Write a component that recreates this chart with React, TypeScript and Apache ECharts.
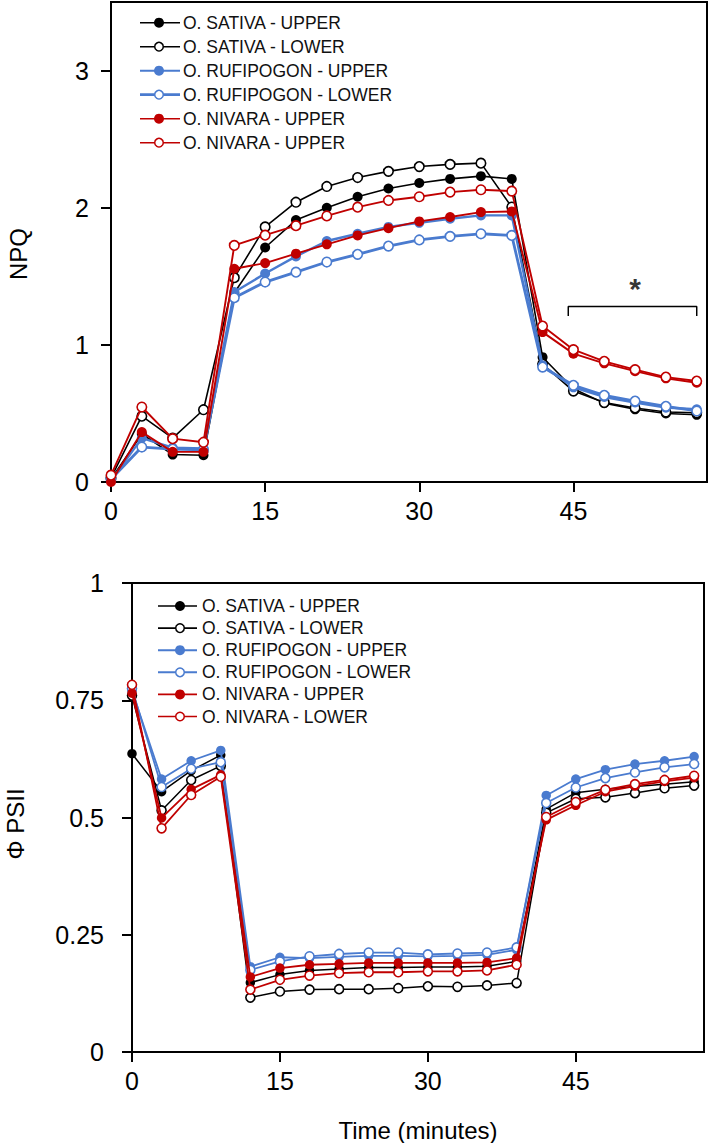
import React, { useEffect, useRef } from "react";
import * as echarts from "echarts";

const times = [0, 3, 6, 9, 12, 15, 18, 21, 24, 27, 30, 33, 36, 39, 42, 45, 48, 51, 54, 57];

// NPQ (top panel)
const sativaUpperNPQ = [0.02, 0.35, 0.2, 0.195, 1.38, 1.71, 1.91, 2.0, 2.08, 2.14, 2.18, 2.21, 2.23, 2.21, 0.91, 0.68, 0.575, 0.53, 0.5, 0.49];
const sativaLowerNPQ = [0.03, 0.48, 0.32, 0.527, 1.49, 1.86, 2.04, 2.155, 2.22, 2.265, 2.3, 2.316, 2.325, 2.005, 0.86, 0.663, 0.58, 0.54, 0.51, 0.505];
const rufiUpperNPQ = [0.01, 0.32, 0.25, 0.245, 1.385, 1.52, 1.645, 1.757, 1.81, 1.86, 1.89, 1.92, 1.944, 1.944, 0.85, 0.69, 0.62, 0.58, 0.542, 0.53];
const rufiLowerNPQ = [0.02, 0.255, 0.24, 0.235, 1.344, 1.458, 1.53, 1.604, 1.66, 1.72, 1.765, 1.791, 1.81, 1.798, 0.838, 0.705, 0.632, 0.59, 0.552, 0.518];
const nivaraUpperNPQ = [0.0, 0.364, 0.22, 0.22, 1.555, 1.596, 1.665, 1.733, 1.798, 1.851, 1.9, 1.932, 1.968, 1.973, 1.093, 0.936, 0.865, 0.808, 0.756, 0.724];
const nivaraLowerNPQ = [0.05, 0.547, 0.316, 0.29, 1.725, 1.8, 1.869, 1.94, 2.004, 2.053, 2.08, 2.114, 2.131, 2.121, 1.137, 0.965, 0.88, 0.819, 0.765, 0.736];

// Phi PSII (bottom panel)
const sativaUpperPSII = [0.636, 0.555, 0.6, 0.633, 0.148, 0.165, 0.174, 0.177, 0.18, 0.18, 0.181, 0.181, 0.183, 0.193, 0.518, 0.553, 0.56, 0.566, 0.571, 0.576];
const sativaLowerPSII = [0.76, 0.515, 0.58, 0.61, 0.116, 0.129, 0.133, 0.134, 0.134, 0.136, 0.14, 0.139, 0.142, 0.147, 0.51, 0.54, 0.543, 0.552, 0.5625, 0.568];
const rufiUpperPSII = [0.77, 0.582, 0.621, 0.643, 0.182, 0.202, 0.2, 0.203, 0.205, 0.205, 0.204, 0.205, 0.207, 0.218, 0.547, 0.582, 0.602, 0.614, 0.621, 0.63];
const rufiLowerPSII = [0.775, 0.565, 0.604, 0.618, 0.175, 0.193, 0.204, 0.209, 0.212, 0.212, 0.208, 0.21, 0.212, 0.223, 0.531, 0.564, 0.584, 0.596, 0.607, 0.614];
const nivaraUpperPSII = [0.765, 0.499, 0.56, 0.591, 0.16, 0.179, 0.186, 0.188, 0.19, 0.19, 0.19, 0.19, 0.191, 0.2, 0.495, 0.526, 0.555, 0.567, 0.577, 0.585];
const nivaraLowerPSII = [0.783, 0.477, 0.548, 0.587, 0.133, 0.154, 0.163, 0.168, 0.17, 0.17, 0.172, 0.172, 0.174, 0.186, 0.501, 0.533, 0.559, 0.571, 0.58, 0.589];

const topLegendLabels = [
  "O. SATIVA - UPPER",
  "O. SATIVA - LOWER",
  "O. RUFIPOGON - UPPER",
  "O. RUFIPOGON - LOWER",
  "O. NIVARA - UPPER",
  "O. NIVARA - UPPER",
];
const bottomLegendLabels = [
  "O. SATIVA - UPPER",
  "O. SATIVA - LOWER",
  "O. RUFIPOGON - UPPER",
  "O. RUFIPOGON - LOWER",
  "O. NIVARA - UPPER",
  "O. NIVARA - LOWER",
];

const xTicks = [0, 15, 30, 45];
const npqTicks = [0, 1, 2, 3];
const bracketPoints = [
  [44.5, 1.21],
  [44.5, 1.28],
  [57, 1.28],
  [57, 1.21],
];
const starPoint = [51, 1.41];

const BLACK = "#000000";
const BLUE = "#4a7bcf";
const RED = "#c00000";
const FONT = "Liberation Sans, Arial, sans-serif";

const styles = [
  { color: BLACK, filled: true },
  { color: BLACK, filled: false },
  { color: BLUE, filled: true },
  { color: BLUE, filled: false },
  { color: RED, filled: true },
  { color: RED, filled: false },
];

function pairs(ys: number[]) {
  return times.map((t, i) => [t, ys[i]]);
}

export default function App() {
  const ref = useRef<HTMLDivElement>(null);

  useEffect(() => {
    if (!ref.current) return;
    const chart = echarts.init(ref.current, null, { renderer: "svg" });

    const topData = [sativaUpperNPQ, sativaLowerNPQ, rufiUpperNPQ, rufiLowerNPQ, nivaraUpperNPQ, nivaraLowerNPQ];
    const botData = [sativaUpperPSII, sativaLowerPSII, rufiUpperPSII, rufiLowerPSII, nivaraUpperPSII, nivaraLowerPSII];
    const topWidths = [1.6, 1.6, 2.4, 2.8, 1.9, 1.9];
    const botWidths = [1.5, 1.5, 1.8, 1.8, 1.8, 1.8];

    const mkSeries = (data: number[][], idx: number, grid: number, widths: number[], fsz: number, osz: number) => {
      const s = styles[idx];
      return {
        type: "line",
        xAxisIndex: grid,
        yAxisIndex: grid,
        data: pairs(data[idx] as any),
        symbol: "circle",
        symbolSize: s.filled ? fsz : osz,
        showAllSymbol: true,
        silent: true,
        lineStyle: { color: s.color, width: widths[idx] },
        itemStyle: {
          color: s.filled ? s.color : "#ffffff",
          borderColor: s.color,
          borderWidth: s.filled ? 0 : 1.6,
        },
        z: 2 + idx,
      };
    };

    const series: any[] = [];
    for (let i = 0; i < 6; i++) series.push(mkSeries(topData as any, i, 0, topWidths, 10, 9.5));
    for (let i = 0; i < 6; i++) series.push(mkSeries(botData as any, i, 1, botWidths, 9.5, 9));
    series.push({
      type: "line",
      xAxisIndex: 0,
      yAxisIndex: 0,
      data: bracketPoints,
      symbol: "none",
      silent: true,
      lineStyle: { color: BLACK, width: 1.5 },
    });
    series.push({
      type: "scatter",
      xAxisIndex: 0,
      yAxisIndex: 0,
      data: [starPoint],
      symbol: "circle",
      symbolSize: 0,
      silent: true,
      label: {
        show: true,
        position: "inside",
        formatter: "*",
        fontSize: 30,
        fontWeight: "bold",
        color: BLACK,
        fontFamily: FONT,
      },
    });

    const graphic: any[] = [];
    const legend = (labels: string[], x1: number, x2: number, mx: number, tx: number, y0: number, dy: number) => {
      labels.forEach((lab, i) => {
        const s = styles[i];
        const y = y0 + i * dy;
        const w = i === 3 && x1 === 140 ? 2.8 : s.color === BLUE ? 2 : 1.6;
        graphic.push({ type: "line", shape: { x1, y1: y, x2, y2: y }, style: { stroke: s.color, lineWidth: w } });
        graphic.push({
          type: "circle",
          shape: { cx: mx, cy: y, r: s.filled ? 5 : 4.3 },
          style: { fill: s.filled ? s.color : "#ffffff", stroke: s.color, lineWidth: s.filled ? 0 : 1.5 },
        });
        graphic.push({
          type: "text",
          x: tx,
          y,
          style: { text: lab, font: `17.5px ${FONT}`, fill: "#111", verticalAlign: "middle", align: "left" },
        });
      });
    };
    legend(topLegendLabels, 140, 180, 159, 183, 22.7, 24);
    legend(bottomLegendLabels, 158, 197, 180, 202, 606, 22.1);

    graphic.push({
      type: "text",
      x: 18,
      y: 254,
      rotation: Math.PI / 2,
      style: { text: "NPQ", font: `24px ${FONT}`, fill: "#000", align: "center", verticalAlign: "middle" },
    });
    graphic.push({
      type: "text",
      x: 15,
      y: 824,
      rotation: Math.PI / 2,
      style: { text: "Φ PSII", font: `24px ${FONT}`, fill: "#000", align: "center", verticalAlign: "middle" },
    });
    graphic.push({
      type: "text",
      x: 418,
      y: 1130,
      style: { text: "Time (minutes)", font: `24px ${FONT}`, fill: "#000", align: "center", verticalAlign: "middle" },
    });

    const axisLine = { show: true, lineStyle: { color: "#000", width: 2 } };
    const tick = (vals?: number[]) => ({
      show: true,
      inside: false,
      length: 10,
      lineStyle: { color: "#000", width: 2 },
      ...(vals ? { customValues: vals } : {}),
    });
    const lbl = (margin: number, vals?: number[]) => ({
      color: "#000",
      fontSize: 25,
      fontFamily: FONT,
      margin,
      ...(vals ? { customValues: vals } : {}),
    });

    chart.setOption({
      animation: false,
      backgroundColor: "#ffffff",
      grid: [
        { left: 111, top: 2, width: 596, height: 480, show: true, borderColor: "#000", borderWidth: 2, backgroundColor: "transparent" },
        { left: 132, top: 583, width: 572, height: 469, show: true, borderColor: "#000", borderWidth: 2, backgroundColor: "transparent" },
      ],
      xAxis: [
        {
          gridIndex: 0, type: "value", min: 0, max: 58, interval: 15,
          axisLine, axisTick: tick(xTicks),
          axisLabel: { ...lbl(16, xTicks), formatter: (v: number) => (xTicks.includes(v) ? String(v) : "") },
          splitLine: { show: false },
        },
        {
          gridIndex: 1, type: "value", min: 0, max: 58, interval: 15,
          axisLine, axisTick: tick(xTicks),
          axisLabel: { ...lbl(16, xTicks), formatter: (v: number) => (xTicks.includes(v) ? String(v) : "") },
          splitLine: { show: false },
        },
      ],
      yAxis: [
        {
          gridIndex: 0, type: "value", min: 0, max: 3.5, interval: 1,
          axisLine, axisTick: tick(npqTicks),
          axisLabel: { ...lbl(22, npqTicks), formatter: (v: number) => (npqTicks.includes(v) ? String(v) : "") },
          splitLine: { show: false },
        },
        {
          gridIndex: 1, type: "value", min: 0, max: 1, interval: 0.25,
          axisLine, axisTick: tick(),
          axisLabel: lbl(28),
          splitLine: { show: false },
        },
      ],
      series,
      graphic,
    });

    return () => chart.dispose();
  }, []);

  return (
    <div
      ref={ref}
      style={{ position: "absolute", left: 0, top: 0, width: 709, height: 1143, background: "#fff" }}
    />
  );
}
